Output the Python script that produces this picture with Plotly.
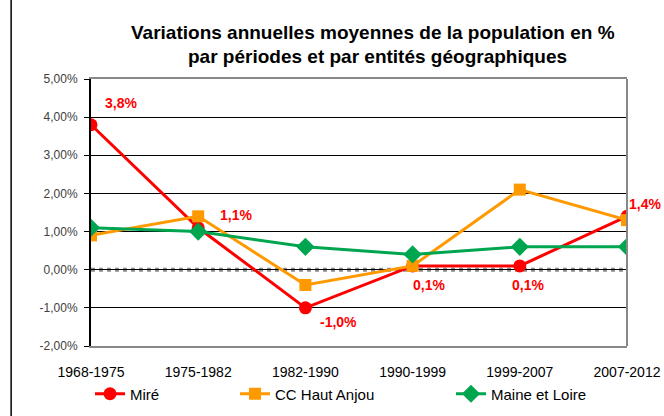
import plotly.graph_objects as go

periods = ["1968-1975", "1975-1982", "1982-1990", "1990-1999", "1999-2007", "2007-2012"]
mire = [3.8, 1.1, -1.0, 0.1, 0.1, 1.4]
cc_haut_anjou = [0.9, 1.4, -0.4, 0.1, 2.1, 1.3]
maine_et_loire = [1.1, 1.0, 0.6, 0.4, 0.6, 0.6]
y_ticks = [-2, -1, 0, 1, 2, 3, 4, 5]
y_tick_labels = ["-2,00%", "-1,00%", "0,00%", "1,00%", "2,00%", "3,00%", "4,00%", "5,00%"]

FONT = "Liberation Sans, Arial, sans-serif"
xs = list(range(len(periods)))

fig = go.Figure()
fig.add_trace(go.Scatter(x=xs, y=mire, name="Miré", mode="lines+markers", legend="legend",
                         line=dict(color="#FF0000", width=3),
                         marker=dict(symbol="circle", size=13, color="#FF0000")))
fig.add_trace(go.Scatter(x=xs, y=cc_haut_anjou, name="CC Haut Anjou", mode="lines+markers", legend="legend2",
                         line=dict(color="#FF9900", width=3),
                         marker=dict(symbol="square", size=12, color="#FF9900")))
fig.add_trace(go.Scatter(x=xs, y=maine_et_loire, name="Maine et Loire", mode="lines+markers", legend="legend3",
                         line=dict(color="#00A550", width=3),
                         marker=dict(symbol="diamond", size=14, color="#00A550")))

# labels for Miré (pixel offsets: right, down)
offsets = [(30, -22), (38, -13), (33, 14), (16, 19), (8, 19), (18, -12)]
for i, v in enumerate(mire):
    txt = ("%.1f%%" % v).replace(".", ",")
    fig.add_annotation(x=xs[i], y=v, text="<b>" + txt + "</b>", showarrow=False,
                       xshift=offsets[i][0], yshift=-offsets[i][1],
                       font=dict(family=FONT, size=14, color="#FF0000"))

# zero line (hatched gray)
fig.add_shape(type="line", xref="x", yref="y", x0=0, x1=5, y0=0, y1=0,
              line=dict(color="#8C8C8C", width=4, dash="dot"), layer="below")
# right border gray
fig.add_shape(type="line", xref="paper", yref="paper", x0=1, x1=1, y0=0, y1=1,
              line=dict(color="#888888", width=2))

# outer left frame line
fig.add_shape(type="line", xref="paper", yref="paper", x0=-0.149, x1=-0.149, y0=-0.3, y1=1.35,
              line=dict(color="black", width=1.5))

fig.add_annotation(xref="paper", yref="paper", x=0.527, y=1.176, yanchor="middle",
                   showarrow=False, text="<b>Variations annuelles moyennes de la population en %</b>",
                   font=dict(family=FONT, size=19, color="black"))
fig.add_annotation(xref="paper", yref="paper", x=0.535, y=1.083, yanchor="middle",
                   showarrow=False, text="<b>par périodes et par entités géographiques</b>",
                   font=dict(family=FONT, size=19, color="black"))

leg_common = dict(orientation="h", xref="container", yref="container",
                  y=1 - 394 / 416, yanchor="middle", xanchor="left",
                  font=dict(family=FONT, size=15, color="black"), bgcolor="rgba(0,0,0,0)",
                  itemwidth=30)
fig.update_layout(
    width=664, height=416,
    margin=dict(l=91, r=37, t=79, b=70),
    paper_bgcolor="white", plot_bgcolor="white",
    font=dict(family=FONT, size=12, color="black"),
    showlegend=True,
    legend=dict(x=90 / 664, **leg_common),
    legend2=dict(x=235 / 664, **leg_common),
    legend3=dict(x=451 / 664, **leg_common),
    xaxis=dict(range=[0, 5], tickvals=xs, ticktext=periods, showgrid=False, zeroline=False,
               showline=True, linecolor="#888888", linewidth=2, mirror=True,
               tickfont=dict(family=FONT, size=14, color="black"), ticks="", automargin=False,
               ticklabelstandoff=12),
    yaxis=dict(range=[-2, 5], tickvals=y_ticks, ticktext=y_tick_labels,
               showgrid=True, gridcolor="black", gridwidth=1, zeroline=False,
               showline=True, linecolor="black", linewidth=2, mirror=False,
               ticks="outside", ticklen=5, tickcolor="black", automargin=False,
               ticklabelstandoff=4,
               tickfont=dict(family=FONT, size=12, color="#404040")),
)
fig.write_html("out.html", post_script="document.body.style.margin='0';",
               config={"displayModeBar": False})
